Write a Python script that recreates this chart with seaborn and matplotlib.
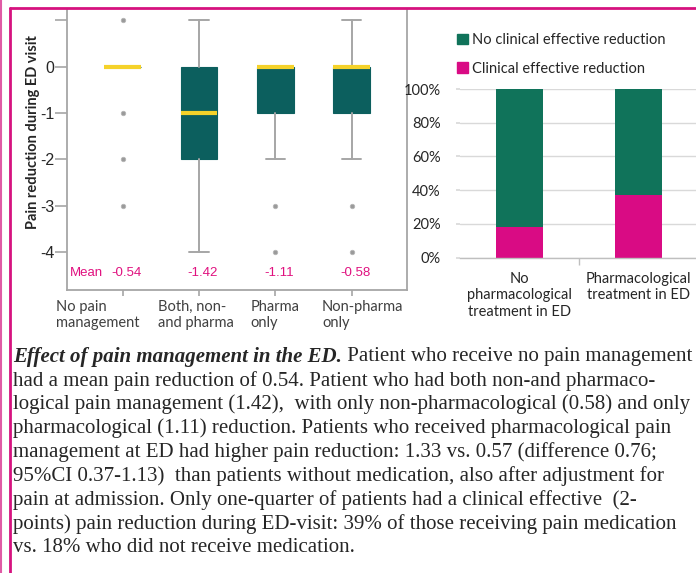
import numpy as np
import pandas as pd
import matplotlib.pyplot as plt
import seaborn as sns
from matplotlib.ticker import PercentFormatter, FixedLocator
from matplotlib.transforms import ScaledTranslation
from matplotlib.patches import Patch

# ---------- data: box plot (summary stats) ----------
groups = ['No pain\nmanagement', 'Both, non-\nand pharma', 'Pharma\nonly', 'Non-pharma\nonly']
box_q1 = [0, -2, -1, -1]
box_med = [0, -1, 0, 0]
box_q3 = [0, 0, 0, 0]
whisk_lo = [0, -4, -2, -2]
whisk_hi = [0, 1, 0, 1]
fliers = [[1, -1, -2, -3], [], [-3, -4], [-3, -4]]
means = [-0.54, -1.42, -1.11, -0.58]

# ---------- data: stacked bars ----------
treat_cats = ['No\npharmacological\ntreatment in ED', 'Pharmacological\ntreatment in ED']
clinical_pct = [18, 37]
no_clinical_pct = [82, 63]

caption_title = 'Effect of pain management in the ED.'
caption_lines = [
    ' Patient who receive no pain management',
    'had a mean pain reduction of 0.54. Patient who had both non-and pharmaco-',
    'logical pain management (1.42),  with only non-pharmacological (0.58) and only',
    'pharmacological (1.11) reduction. Patients who received pharmacological pain',
    'management at ED had higher pain reduction: 1.33 vs. 0.57 (difference 0.76;',
    '95%CI 0.37-1.13)  than patients without medication, also after adjustment for',
    'pain at admission. Only one-quarter of patients had a clinical effective  (2-',
    'points) pain reduction during ED-visit: 39% of those receiving pain medication',
    'vs. 18% who did not receive medication.',
]

TEAL = '#0c5f5e'
YELLOW = '#f5d22a'
GREEN = '#10735a'
PINK = '#d90b84'
MAGENTA = '#e0107f'
FRAME = '#d6127f'
GRAY = '#a6a6a6'

sns.set_theme(style='white')
plt.rcParams['font.family'] = ['Lato', 'DejaVu Sans']

W, H = 696, 573
fig = plt.figure(figsize=(W / 100, H / 100), dpi=100)

# ---------- 1. Box plot ----------
ax = fig.add_axes([67 / W, 1 - 290 / H, 340 / W, 280 / H])
stats = []
for i in range(len(groups)):
    stats.append(dict(med=box_med[i], q1=box_q1[i], q3=box_q3[i],
                      whislo=whisk_lo[i], whishi=whisk_hi[i], fliers=fliers[i]))
ax.bxp(stats, positions=range(len(groups)), widths=0.48, capwidths=0.25,
       patch_artist=True, showfliers=True,
       boxprops=dict(facecolor=TEAL, edgecolor=TEAL, linewidth=0.8),
       medianprops=dict(color=YELLOW, linewidth=3, solid_capstyle='butt'),
       whiskerprops=dict(color=GRAY, linewidth=1.4),
       capprops=dict(color=GRAY, linewidth=1.4),
       flierprops=dict(marker='o', markersize=3.2, markerfacecolor='#9a9a9a',
                       markeredgecolor='#b5b5b5', markeredgewidth=0.6))
ax.set_xlim(-0.73, 3.725)
ax.set_ylim(-4.82, 1.22)
ax.set_yticks([1, 0, -1, -2, -3, -4])
ax.set_yticklabels(['', '0', '-1', '-2', '-3', '-4'], family='Liberation Sans', fontsize=11.5)
ax.set_xticks(range(len(groups)))
ax.set_xticklabels([''] * len(groups))
ax.tick_params(axis='y', length=9, width=1.2, color=GRAY, pad=0, direction='out', left=True)
ax.tick_params(axis='x', length=4, width=1.2, color=GRAY, pad=6, direction='out', bottom=True)
for side in ['left', 'bottom', 'right']:
    ax.spines[side].set_color(GRAY)
    ax.spines[side].set_linewidth(1.3)
ax.spines['top'].set_visible(False)

# group labels: left-aligned blocks below each tick
offsets = [-25, -3, 0, 11]
for i, (g, dx) in enumerate(zip(groups, offsets)):
    tr = ax.get_xaxis_transform() + ScaledTranslation(dx / 100, -10 / 100, fig.dpi_scale_trans)
    ax.text(i, 0, g, transform=tr, fontsize=10.5, color='#404040', ha='center', va='top',
            multialignment='left', linespacing=1.15)

ax.text(-0.47, -4.45, 'Mean', color=MAGENTA, fontsize=9.5, family='Liberation Sans',
        ha='center', va='center')
for i, m in enumerate(means):
    ax.text(i + 0.05, -4.45, f'{m:.2f}', color=MAGENTA, fontsize=9.5,
            family='Liberation Sans', ha='center', va='center')

fig.text(33 / W, 1 - 132 / H, 'Pain reduction during ED visit', rotation=90,
         fontsize=10.5, fontweight='bold', color='#262626', ha='center', va='center')

# ---------- 2. Stacked bars ----------
bx = fig.add_axes([460 / W, 1 - 257.7 / H, 238 / W, 168.7 / H])
totals = [a + b for a, b in zip(clinical_pct, no_clinical_pct)]
bar_df = pd.DataFrame({'cat': treat_cats, 'total': totals, 'clinical': clinical_pct})
sns.barplot(data=bar_df, x='cat', y='total', color=GREEN, saturation=1, width=0.4,
            linewidth=0, ax=bx)
sns.barplot(data=bar_df, x='cat', y='clinical', color=PINK, saturation=1, width=0.4,
            linewidth=0, ax=bx)
bx.set_xlim(-0.5, 1.5)
bx.set_ylim(0, 100)
bx.set_xlabel('')
bx.set_ylabel('')
bx.yaxis.set_major_formatter(PercentFormatter(100, decimals=0))
bx.set_yticks([0, 20, 40, 60, 80, 100])
bx.yaxis.grid(True, color='#d9d9d9', linewidth=1)
bx.set_axisbelow(True)
for side in ['left', 'top', 'right']:
    bx.spines[side].set_visible(False)
bx.spines['bottom'].set_color('#bfbfbf')
bx.spines['bottom'].set_linewidth(1)
bx.tick_params(axis='y', length=3, color='#d9d9d9', pad=11, labelsize=10.5,
               labelcolor='#262626', left=True)
bx.tick_params(axis='x', length=0, pad=10, labelsize=10.5, labelcolor='#262626')
bx.xaxis.set_minor_locator(FixedLocator([0.5]))
bx.tick_params(axis='x', which='minor', length=5, color='#bfbfbf', bottom=True)
for lab in bx.get_xticklabels():
    lab.set_linespacing(1.25)

handles = [Patch(color=GREEN), Patch(color=PINK)]
fig.legend(handles, ['No clinical effective reduction', 'Clinical effective reduction'],
           loc='upper left', bbox_to_anchor=(444 / W, 1 - 20 / H), frameon=False,
           fontsize=10.5, handlelength=0.75, handleheight=0.75, handletextpad=0.3,
           labelspacing=1.0, labelcolor='#262626')

# ---------- 3. Frame ----------
fig.add_artist(plt.Line2D([10 / W, 1], [1 - 8 / H, 1 - 8 / H], color=FRAME, lw=2))
fig.add_artist(plt.Line2D([10 / W, 10 / W], [0, 1 - 8 / H], color=FRAME, lw=2))
fig.add_artist(plt.Line2D([0.8 / W, 0.8 / W], [0, 1], color='#e05aa5', lw=1.5))

# ---------- 4. Caption ----------
cap_size = 15.0
y_first, y_step = 357, 23.8
t = fig.text(13 / W, 1 - y_first / H, caption_title, family='Liberation Serif',
             fontsize=cap_size, fontweight='bold', style='italic', va='center')
fig.canvas.draw()
bb = t.get_window_extent()
fig.text(bb.x1 / W, 1 - y_first / H, caption_lines[0], family='Liberation Serif',
         fontsize=cap_size, va='center')
for k, line in enumerate(caption_lines[1:], start=1):
    fig.text(13 / W, 1 - (y_first + y_step * k) / H, line, family='Liberation Serif',
             fontsize=cap_size, va='center')

fig.savefig('out.png', dpi=100)
